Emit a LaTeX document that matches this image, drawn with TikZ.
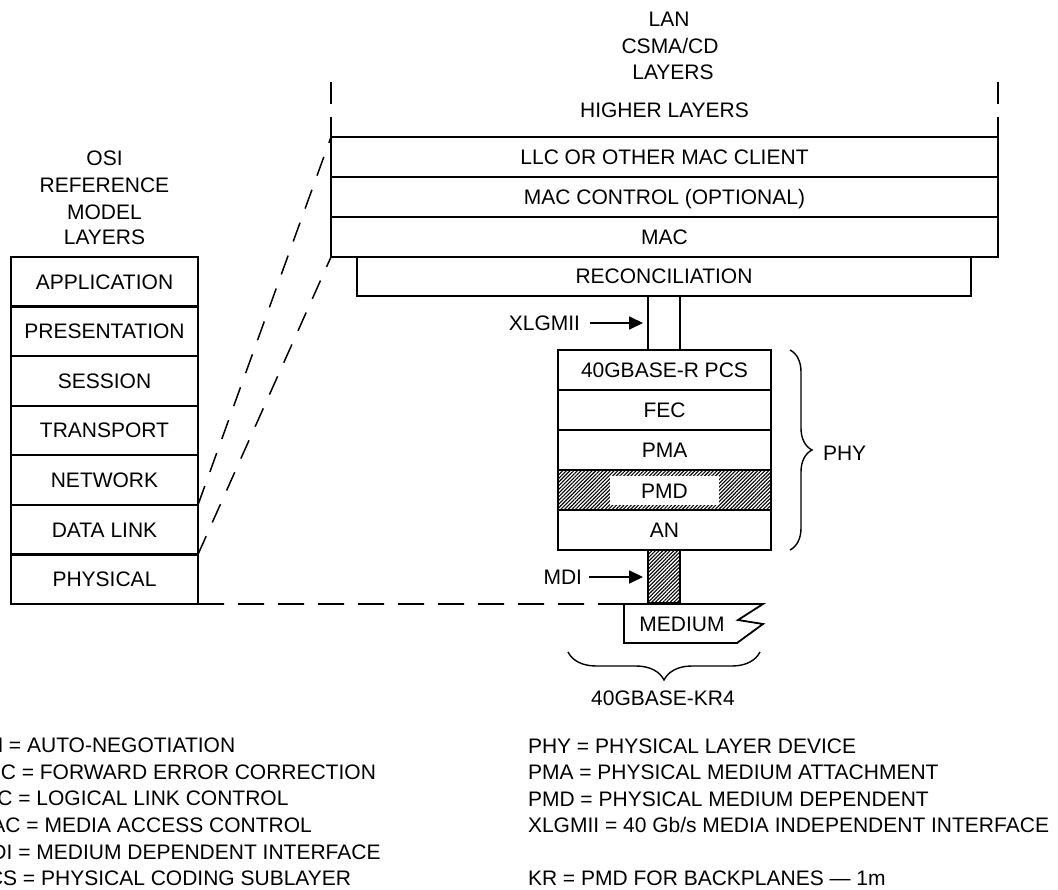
\documentclass[tikz,border=0pt]{standalone}
\usepackage{fontspec}
\setmainfont{Liberation Sans}
\usetikzlibrary{arrows.meta,patterns.meta,decorations.pathreplacing,calc}
\begin{document}
\begin{tikzpicture}[x=1pt,y=-1pt,
  every node/.style={font=\fontsize{21}{25}\selectfont, inner sep=0pt, outer sep=0pt, text height=15pt, text depth=0pt},
  lbox/.style={draw, line width=2.2pt},
  upbox/.style={lbox, minimum width=667pt, minimum height=40pt},
  osibox/.style={lbox, minimum width=187pt, minimum height=49.57pt},
  phybox/.style={lbox, minimum width=213pt, minimum height=40pt},
  hatch/.style={pattern={Lines[angle=45,distance=2.6pt,line width=1.1pt]}},
  lw/.style={line width=2.2pt},
  thinlw/.style={line width=1.8pt, line join=miter},
  slantdash/.style={line width=1.5pt, dash pattern=on 20pt off 15pt},
  flatdash/.style={line width=1.7pt, dash pattern=on 26pt off 14pt},
  arr/.style={line width=1.8pt, -{Triangle[length=14pt,width=13pt]}},
  brc/.style={line width=1.4pt, decorate},
  legend/.style={anchor=west}
]
\useasboundingbox (0,0) rectangle (1058,890);
\clip (0,0) rectangle (1058,890);

% --- LAN CSMA/CD title ---
\node (lan) at (669,19) {LAN};
\node (csma) at (670,46) {CSMA/CD};
\node (lanlay) at (673,72) {LAYERS};

% --- upper stack ---
\node (hl) at (664.5,110) {HIGHER LAYERS};
\node[upbox] (llc) at (664.5,157) {LLC OR OTHER MAC CLIENT};
\node[upbox] (macc) at (664.5,197) {MAC CONTROL (OPTIONAL)};
\node[upbox] (mac) at (664.5,237) {MAC};
\node[lbox, minimum width=614pt, minimum height=39pt] (rec) at (664,276.5) {RECONCILIATION};

\coordinate (tl1) at (331,82);
\coordinate (tl2) at (331,104);
\coordinate (tl3) at (331,117);
\coordinate (tr1) at (998,82);
\coordinate (tr2) at (998,104);
\coordinate (tr3) at (998,117);
\draw[lw] (tl1) -- (tl2);
\draw[lw] (tl3) -- (llc.north west);
\draw[lw] (tr1) -- (tr2);
\draw[lw] (tr3) -- (llc.north east);

% --- PHY stack ---
\node[phybox] (pcs) at (664.5,370) {40GBASE-R PCS};
\node[phybox] (fec) at (664.5,410) {FEC};
\node[phybox] (pma) at (664.5,450) {PMA};
\node[phybox, hatch] (pmd) at (664.5,490) {};
\node[fill=white, minimum width=109pt, minimum height=29pt] (pmdl) at (664.5,490.5) {PMD};
\node[phybox] (an) at (664.5,530) {AN};

% --- XLGMII ---
\coordinate (xa) at (648,0);
\coordinate (xb) at (680,0);
\draw[lw] (rec.south -| xa) -- (pcs.north -| xa);
\draw[lw] (rec.south -| xb) -- (pcs.north -| xb);
\node[anchor=east] (xlg) at (580,323) {XLGMII};
\draw[arr] ($(xlg.east)+(10,0)$) -- ($(xlg.east -| xa)+(-5,0)$);

% --- MDI ---
\node[lbox, hatch, minimum width=32pt, minimum height=53pt] (mdi) at (664,576.5) {};
\node[anchor=east] (mdil) at (582,577) {MDI};
\draw[arr] ($(mdil.east)+(7,0)$) -- ($(mdil.east -| mdi.west)+(-5,0)$);

% --- MEDIUM ---
\coordinate (m1) at (624,604);
\coordinate (m2) at (763,604);
\coordinate (m3) at (738,620);
\coordinate (m4) at (763,624);
\coordinate (m5) at (737,643);
\coordinate (m6) at (624,643);
\draw[thinlw] (m1) -- (m2) -- (m3) -- (m4) -- (m5) -- (m6) -- cycle;
\node (med) at (682,624) {MEDIUM};

% --- braces ---
\coordinate (pb1) at (790,350);
\coordinate (pb2) at (790,550);
\draw[brc, decoration={brace, amplitude=22pt}] (pb1) -- (pb2);
\node[anchor=west] (phy) at (823,453) {PHY};
\coordinate (kb1) at (568,652);
\coordinate (kb2) at (760,652);
\draw[brc, decoration={brace, mirror, amplitude=28pt}] (kb1) -- (kb2);
\node (kr4) at (663,698) {40GBASE-KR4};

% --- OSI ---
\node (osi1) at (104.5,158) {OSI};
\node (osi2) at (104.5,185) {REFERENCE};
\node (osi3) at (104.5,212) {MODEL};
\node (osi4) at (104.5,237) {LAYERS};
\node[osibox] (app) at (104.5,281.8) {APPLICATION};
\node[osibox] (pres) at (104.5,331.4) {PRESENTATION};
\node[osibox] (sess) at (104.5,380.9) {SESSION};
\node[osibox] (trans) at (104.5,430.5) {TRANSPORT};
\node[osibox] (net) at (104.5,480.1) {NETWORK};
\node[osibox] (dl) at (104.5,529.6) {DATA LINK};
\node[osibox] (ph) at (104.5,579.2) {PHYSICAL};

% --- dashed correspondences ---
\draw[slantdash] (dl.north east) -- (llc.north west);
\draw[slantdash] (ph.north east) -- (mac.south west);
\draw[flatdash] (ph.south east) -- (m1);

% --- legend ---
\node[legend] (la1) at (-26,745) {AN = AUTO-NEGOTIATION};
\node[legend] (la2) at (-26,772) {FEC = FORWARD ERROR CORRECTION};
\node[legend] (la3) at (-26,798) {LLC = LOGICAL LINK CONTROL};
\node[legend] (la4) at (-26,825) {MAC = MEDIA ACCESS CONTROL};
\node[legend] (la5) at (-26,852) {MDI = MEDIUM DEPENDENT INTERFACE};
\node[legend] (la6) at (-26,878) {PCS = PHYSICAL CODING SUBLAYER};
\node[legend] (lb1) at (528,746) {PHY = PHYSICAL LAYER DEVICE};
\node[legend] (lb2) at (528,772) {PMA = PHYSICAL MEDIUM ATTACHMENT};
\node[legend] (lb3) at (528,799) {PMD = PHYSICAL MEDIUM DEPENDENT};
\node[legend] (lb4) at (528,825) {XLGMII = 40 Gb/s MEDIA INDEPENDENT INTERFACE};
\node[legend] (lb5) at (528,878) {KR = PMD FOR BACKPLANES — 1m};
\end{tikzpicture}
\end{document}
